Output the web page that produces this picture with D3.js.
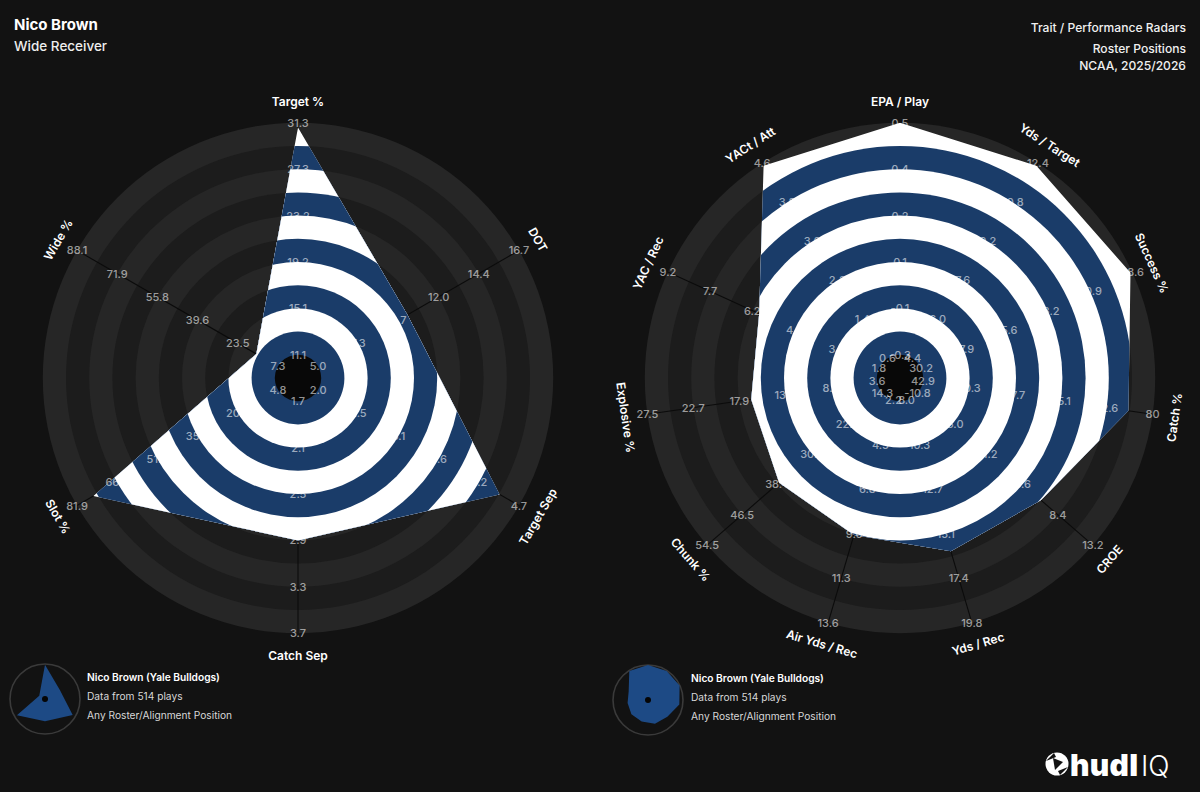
<!DOCTYPE html>
<html><head><meta charset="utf-8">
<script src="https://cdn.jsdelivr.net/npm/d3@7"></script>
<style>
html,body{margin:0;padding:0;background:#121212;}
svg{display:block;font-family:Inter,"Noto Sans",sans-serif;}
</style></head><body>
<svg id="chart" width="1200" height="792"></svg>
<script>
// ---------- data ----------
const leftParams = ["Target %","DOT","Target Sep","Catch Sep","Slot %","Wide %"];
const leftMin = [11.1,5.0,2.0,1.7,4.8,7.3];
const leftMax = [31.3,16.7,4.7,3.7,81.9,88.1];
const leftTicks = [
  ["11.1","15.1","19.2","23.2","27.3","31.3"],
  ["5.0","7.3","9.7","12.0","14.4","16.7"],
  ["2.0","2.5","3.1","3.6","4.2","4.7"],
  ["1.7","2.1","2.5","2.9","3.3","3.7"],
  ["4.8","20.2","35.6","51.0","66.5","81.9"],
  ["7.3","23.5","39.6","55.8","71.9","88.1"]
];
const leftValues = [30.9,10.2,4.44,2.9,75.6,16.0];

const rightParams = ["EPA / Play","Yds / Target","Success %","Catch %","CROE","Yds / Rec","Air Yds / Rec","Chunk %","Explosive %","YAC / Rec","YACt / Att"];
const rightMin = [-0.3,4.4,30.2,42.9,-10.8,8.0,2.2,14.3,3.6,1.8,0.6];
const rightMax = [0.5,12.4,68.6,80,13.2,19.8,13.6,54.5,27.5,9.2,4.6];
const rightTicks = [
  ["-0.3","-0.1","0.1","0.2","0.4","0.5"],
  ["4.4","6.0","7.6","9.2","10.8","12.4"],
  ["30.2","37.9","45.6","53.2","60.9","68.6"],
  ["42.9","50.3","57.7","65.1","72.6","80"],
  ["-10.8","-6.0","-1.2","3.6","8.4","13.2"],
  ["8.0","10.3","12.7","15.1","17.4","19.8"],
  ["2.2","4.5","6.8","9.0","11.3","13.6"],
  ["14.3","22.3","30.4","38.4","46.5","54.5"],
  ["3.6","8.4","13.2","17.9","22.7","27.5"],
  ["1.8","3.3","4.8","6.2","7.7","9.2"],
  ["0.6","1.4","2.2","3.0","3.8","4.6"]
];
const rightValues = [0.5,12.3,68.3,76.1,6.1,16.0,9.1,38.0,16.7,6.0,4.55];

const legendLines = ["Nico Brown (Yale Bulldogs)","Data from 514 plays","Any Roster/Alignment Position"];

// ---------- style ----------
const BG = "#121212", RING_LIGHT = "#262626", RING_DARK = "#1c1c1c", CENTER = "#080808";
const BLUE = "#1a3c69", WHITE = "#ffffff";
const BAND = 23.2, NBANDS = 10, ROUTER = BAND*(NBANDS+1), LABEL_R = 277;

const svg = d3.select("#chart");
svg.append("rect").attr("width",1200).attr("height",792).attr("fill",BG);

function drawRadar(id, cx, cy, params, mins, maxs, ticks, values){
  const n = params.length;
  const angle = d3.scaleLinear().domain([0,n]).range([0,2*Math.PI]);
  const radial = mins.map((m,i)=>d3.scaleLinear().domain([m,maxs[i]]).range([BAND,ROUTER]).clamp(true));
  const root = svg.append("g").attr("transform",`translate(${cx},${cy})`);
  const ks = d3.range(NBANDS,0,-1);
  root.append("g").selectAll("circle").data(ks).join("circle")
    .attr("r",k=>BAND*(k+1)).attr("fill",k=>k%2===0?RING_LIGHT:RING_DARK);
  // spokes
  root.append("g").selectAll("line").data(params).join("line")
    .attr("x1",0).attr("y1",0)
    .attr("x2",(d,i)=>ROUTER*Math.sin(angle(i)))
    .attr("y2",(d,i)=>-ROUTER*Math.cos(angle(i)))
    .attr("stroke","#0b0b0b").attr("stroke-width",1.1);
  // polygon
  const line = d3.lineRadial().angle((d,i)=>angle(i)).radius((d,i)=>radial[i](d)).curve(d3.curveLinearClosed);
  root.append("clipPath").attr("id","clip-"+id).append("path").attr("d",line(values));
  root.append("g").attr("clip-path",`url(#clip-${id})`).selectAll("circle").data(ks).join("circle")
    .attr("r",k=>BAND*(k+1)).attr("fill",k=>k%2===0?WHITE:BLUE);
  root.append("circle").attr("r",BAND).attr("fill",CENTER);
  // tick labels
  const tl = root.append("g").attr("font-size",11).attr("font-weight",500).attr("fill","#ffffff").attr("fill-opacity",0.58);
  ticks.forEach((arr,i)=>{
    const a = angle(i);
    arr.forEach((t,j)=>{
      const r = BAND + 2*BAND*j;
      tl.append("text").attr("x",r*Math.sin(a)).attr("y",-r*Math.cos(a))
        .attr("text-anchor","middle").attr("dominant-baseline","central").text(t);
    });
  });
  // param labels
  root.append("g").selectAll("text").data(params).join("text")
    .attr("transform",(d,i)=>{
      const a = angle(i), deg = a*180/Math.PI;
      let rot = deg;
      if(deg>90 && deg<270) rot = deg-180; else if(deg>=270) rot = deg-360;
      return `translate(${LABEL_R*Math.sin(a)},${-LABEL_R*Math.cos(a)}) rotate(${rot})`;
    })
    .attr("text-anchor","middle").attr("dominant-baseline","central")
    .attr("fill","#ffffff").attr("font-size",12).attr("font-weight",600).text(d=>d);
  return {angle, radial};
}

function drawLegend(cx, cy, tx, values, angle, radial){
  const g = svg.append("g");
  const ic = g.append("g").attr("transform",`translate(${cx},${cy})`);
  ic.append("circle").attr("r",35).attr("fill","none").attr("stroke","#3a3a3a").attr("stroke-width",1.6);
  const s = 35/ROUTER;
  const line = d3.lineRadial().angle((d,i)=>angle(i)).radius((d,i)=>radial[i](d)*s).curve(d3.curveLinearClosed);
  ic.append("path").attr("d",line(values)).attr("fill","#1d4a85");
  ic.append("circle").attr("r",3).attr("fill","#050505");
  legendLines.forEach((t,i)=>{
    g.append("text").attr("x",tx).attr("y",cy-22+i*19).attr("dominant-baseline","central")
      .attr("font-size",10.2).attr("font-weight",i===0?600:400)
      .attr("fill",i===0?"#ffffff":"#d8d8d8").text(t);
  });
}

const L = drawRadar("l",298,378,leftParams,leftMin,leftMax,leftTicks,leftValues);
const R = drawRadar("r",900,378,rightParams,rightMin,rightMax,rightTicks,rightValues);
drawLegend(45,699,87,leftValues,L.angle,L.radial);
drawLegend(648,700,691,rightValues,R.angle,R.radial);

// titles
svg.append("text").attr("x",14).attr("y",30).attr("fill","#fff").attr("font-size",15).attr("font-weight",700).text("Nico Brown");
svg.append("text").attr("x",14).attr("y",51).attr("fill","#eee").attr("font-size",13.5).attr("font-weight",500).text("Wide Receiver");
const rt = ["Trait / Performance Radars","Roster Positions","NCAA, 2025/2026"];
const ry = [32,53,70];
rt.forEach((t,i)=>svg.append("text").attr("x",1186).attr("y",ry[i]).attr("text-anchor","end")
  .attr("fill","#f0f0f0").attr("font-size",12.1).attr("font-weight",500).text(t));

// logo
const logo = svg.append("g").attr("transform","translate(1057,764)");
logo.append("circle").attr("r",11.5).attr("fill","#fff");
logo.append("path").attr("d","M-4,-6 L6,-2 L-2,6 Z").attr("fill",BG);
logo.append("path").attr("d","M-11,-3 Q-6,-8 -3,-11 L-1,-7 Z M11,3 Q6,8 3,11 L1,7 Z").attr("fill",BG);
svg.append("text").attr("x",1070).attr("y",776).attr("fill","#fff").attr("font-size",30).attr("font-weight",900).attr("letter-spacing",0.3).text("hudl");
svg.append("text").attr("x",1141).attr("y",776).attr("fill","#fff").attr("font-size",28).attr("font-weight",300).text("IQ");
</script>
</body></html>
